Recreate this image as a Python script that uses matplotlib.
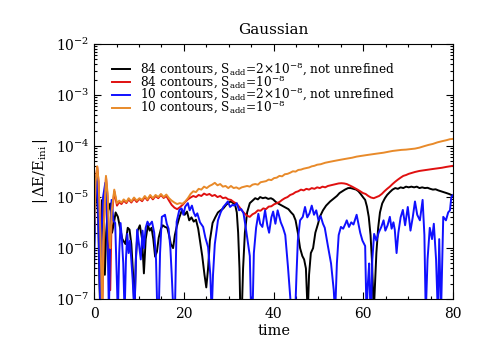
import matplotlib
matplotlib.use("Agg")
import matplotlib.pyplot as plt
from matplotlib.ticker import AutoMinorLocator, LogLocator, NullFormatter

plt.rcParams['font.family'] = ['DejaVu Serif']
plt.rcParams['mathtext.fontset'] = 'dejavuserif'

# 84 contours, S_add=2e-8, not unrefined (black)
t_bk = [0.0, 0.3, 0.6, 0.9, 1.2, 1.4, 1.6, 1.8, 2.1, 2.4, 2.7, 3.0, 3.6, 4.0, 4.4, 4.8,
        5.3, 5.8, 6.3, 7.0, 7.5, 7.9, 8.3, 8.7, 9.0, 9.3, 9.7, 10.2, 10.7, 11.1, 11.5, 12.0,
        12.4, 12.8, 13.2, 13.6, 14.0, 14.4, 14.9, 15.3, 15.8, 16.3, 16.7, 17.1, 17.6, 18.0,
        18.4, 19.0, 19.6, 20.2, 20.7, 21.2, 21.7, 22.2, 22.7, 23.2, 23.6, 24.1, 24.6, 25.0,
        25.4, 25.8, 26.4, 27.0, 27.6, 28.2, 28.8, 29.4, 30.0, 30.5, 31.0, 31.4, 31.8, 32.1,
        32.4, 32.6, 32.9, 33.2, 33.6, 34.1, 34.7, 35.3, 35.9, 36.5, 37.0, 37.6, 38.2, 38.8,
        39.4, 39.9, 40.5, 41.1, 41.6, 42.1, 42.7, 43.3, 43.9, 44.4, 44.9, 45.4, 45.9, 46.4,
        46.8, 47.2, 47.6, 47.9, 48.3, 48.8, 49.3, 49.9, 50.3, 51.0, 51.7, 52.6, 53.5, 54.1,
        54.7, 55.3, 55.9, 56.6, 57.2, 57.8, 58.4, 58.9, 59.4, 59.9, 60.4, 60.8, 61.2, 61.6,
        61.9, 62.1, 62.3, 62.6, 62.9, 63.3, 63.7, 64.2, 64.8, 65.3, 65.9, 66.5, 67.1, 67.7,
        68.3, 68.9, 69.5, 70.1, 70.7, 71.3, 71.9, 72.5, 73.1, 73.7, 74.3, 74.9, 75.5, 76.1,
        76.7, 77.3, 77.9, 78.5, 79.1, 79.6, 80.0]
v_bk = [1e-6, 8e-6, 1.6e-5, 5e-6, 2e-7, 5e-8, 1e-6, 8.8e-6, 3e-6, 3e-7, 2e-6, 5e-6, 7.5e-6, 2e-6, 3e-6, 5e-6,
        4.1e-6, 2.5e-6, 1.5e-6, 1.2e-6, 2.5e-6, 2.3e-6, 1.2e-6, 3e-7, 5e-8, 6e-7, 2.2e-6, 2.8e-6, 1.5e-6, 3.2e-7, 1.5e-6, 2.8e-6,
        2.2e-6, 2.5e-6, 1.5e-6, 6.8e-7, 8.5e-7, 1.6e-6, 2.4e-6, 2.8e-6, 2.6e-6, 2.5e-6, 1.8e-6, 1.2e-6, 1.0e-6, 1.8e-6,
        2.6e-6, 4e-6, 5.6e-6, 4.5e-6, 5.2e-6, 3.5e-6, 4e-6, 3.3e-6, 3.6e-6, 2.4e-6, 1.4e-6, 7e-7, 3e-7, 1.7e-7,
        4e-7, 1.4e-6, 3.1e-6, 4e-6, 5e-6, 5.5e-6, 6e-6, 7e-6, 7.8e-6, 8.2e-6, 7.6e-6, 7.2e-6, 5e-6, 2e-6,
        4e-7, 5e-8, 5e-8, 4e-7, 2e-6, 5e-6, 7.6e-6, 8.5e-6, 9.5e-6, 9e-6, 1.0e-5, 9.5e-6, 9.8e-6, 9.2e-6,
        9.5e-6, 9e-6, 8e-6, 7.4e-6, 7e-6, 6.6e-6, 6.2e-6, 5.8e-6, 5e-6, 4.5e-6, 3.5e-6, 2e-6, 1e-6, 7e-7,
        6e-7, 4e-7, 5e-8, 3e-7, 8e-7, 1e-6, 2e-6, 3e-6, 4.1e-6, 5.5e-6, 6.8e-6, 8.2e-6, 9.5e-6, 1.05e-5,
        1.2e-5, 1.3e-5, 1.4e-5, 1.5e-5, 1.5e-5, 1.45e-5, 1.4e-5, 1.3e-5, 1.15e-5, 1.0e-5, 8.8e-6, 6.5e-6, 4.1e-6, 1.8e-6,
        6e-7, 2e-7, 5e-8, 2e-7, 8e-7, 2.5e-6, 5e-6, 7.5e-6, 9.5e-6, 1.1e-5, 1.25e-5, 1.4e-5, 1.5e-5, 1.45e-5,
        1.55e-5, 1.5e-5, 1.6e-5, 1.55e-5, 1.6e-5, 1.55e-5, 1.6e-5, 1.5e-5, 1.55e-5, 1.5e-5, 1.52e-5, 1.45e-5, 1.4e-5, 1.42e-5,
        1.35e-5, 1.3e-5, 1.25e-5, 1.2e-5, 1.15e-5, 1.1e-5, 1.05e-5]

# 84 contours, S_add=1e-8 (red)
t_rd = [0.0, 0.35, 0.7, 1.0, 1.4, 1.8, 2.2, 2.65, 3.0, 3.3, 3.6, 3.9, 4.5, 5.1, 5.6, 6.1,
        6.6, 7.2, 7.7, 8.3, 8.9, 9.5, 10.1, 10.7, 11.3, 11.9, 12.5, 13.1, 13.7, 14.3, 14.9,
        15.5, 16.1, 16.7, 17.3, 17.9, 18.5, 19.1, 19.7, 20.3, 20.9, 21.5, 22.1, 22.7, 23.3,
        23.9, 24.5, 25.1, 25.7, 26.3, 26.9, 27.5, 28.1, 28.7, 29.3, 29.9, 30.5, 31.1, 31.7,
        32.3, 32.9, 33.5, 34.1, 34.7, 35.3, 35.9, 36.5, 37.1, 37.7, 38.3, 38.9, 39.5, 40.1,
        40.7, 41.3, 41.9, 42.5, 43.1, 43.7, 44.3, 44.9, 45.5, 46.1, 46.7, 47.3, 47.9, 48.5,
        49.1, 49.7, 50.3, 50.9, 51.5, 52.1, 52.7, 53.3, 53.9, 54.5, 55.1, 55.7, 56.3, 56.9,
        57.5, 58.1, 58.7, 59.3, 59.9, 60.5, 61.1, 61.7, 62.3, 62.9, 63.5, 64.1, 64.7, 65.3,
        65.9, 66.5, 67.1, 67.7, 68.3, 68.9, 69.5, 70.1, 70.7, 71.5, 72.5, 73.5, 74.5, 75.5,
        76.5, 77.5, 78.5, 79.3, 80.0]
v_rd = [2e-6, 2e-5, 3.9e-5, 2e-5, 2e-6, 5e-8, 3e-6, 2.5e-5, 1e-5, 1e-6, 1.5e-7, 4e-6, 1.3e-5, 6.8e-6, 8e-6, 7.3e-6,
        8.5e-6, 7.6e-6, 9e-6, 7.8e-6, 9.3e-6, 8e-6, 9.2e-6, 8.3e-6, 1.0e-5, 8.6e-6, 1.05e-5, 9e-6, 1.05e-5, 9.5e-6, 1.1e-5,
        9.6e-6, 1.05e-5, 8.5e-6, 7e-6, 6.2e-6, 5.8e-6, 6.3e-6, 7e-6, 8e-6, 9e-6, 9.8e-6, 1.05e-5, 1.0e-5, 1.1e-5,
        1.05e-5, 1.17e-5, 1.1e-5, 1.15e-5, 1.05e-5, 1.1e-5, 1.0e-5, 1.05e-5, 9.5e-6, 9.8e-6, 9e-6, 8.8e-6, 8e-6, 7.5e-6,
        6.5e-6, 5.5e-6, 4.8e-6, 4.3e-6, 4.1e-6, 4.6e-6, 4.9e-6, 5.5e-6, 5.4e-6, 6e-6, 5.8e-6, 6.5e-6, 6.6e-6, 7.2e-6,
        7.6e-6, 8e-6, 8.8e-6, 9.5e-6, 1.0e-5, 1.1e-5, 1.15e-5, 1.25e-5, 1.3e-5, 1.4e-5, 1.35e-5, 1.45e-5, 1.4e-5, 1.5e-5,
        1.45e-5, 1.55e-5, 1.5e-5, 1.6e-5, 1.55e-5, 1.65e-5, 1.7e-5, 1.75e-5, 1.8e-5, 1.85e-5, 1.87e-5, 1.85e-5, 1.8e-5, 1.7e-5,
        1.6e-5, 1.5e-5, 1.4e-5, 1.3e-5, 1.2e-5, 1.15e-5, 1.05e-5, 9.8e-6, 9.5e-6, 1.0e-5, 1.05e-5, 1.15e-5, 1.3e-5, 1.45e-5,
        1.6e-5, 1.8e-5, 2.0e-5, 2.2e-5, 2.4e-5, 2.6e-5, 2.7e-5, 2.85e-5, 2.95e-5, 3.1e-5, 3.25e-5, 3.35e-5, 3.45e-5, 3.55e-5,
        3.65e-5, 3.75e-5, 3.9e-5, 4.0e-5, 4.1e-5]

# 10 contours, S_add=2e-8, not unrefined (blue)
t_bl = [0.0, 0.2, 0.5, 0.8, 1.1, 1.4, 1.6, 2.0, 2.5, 2.8, 3.1, 3.3, 3.6, 3.9, 4.3, 4.7,
        5.0, 5.3, 5.6, 5.9, 6.2, 6.5, 6.8, 7.1, 7.4, 7.7, 8.0, 8.3, 8.6, 9.0, 9.3, 9.6,
        10.0, 10.4, 10.8, 11.1, 11.5, 11.9, 12.3, 12.9, 13.4, 13.8, 14.1, 14.4, 14.7, 15.1,
        15.5, 15.8, 16.2, 16.6, 17.0, 17.3, 17.7, 18.0, 18.4, 19.0, 19.5, 19.9, 20.3, 20.9,
        21.3, 21.8, 22.2, 22.6, 23.0, 23.6, 24.3, 24.8, 25.4, 25.9, 26.2, 26.5, 26.9, 27.6,
        28.2, 28.8, 29.3, 29.8, 30.3, 30.8, 31.3, 31.8, 32.3, 32.8, 33.3, 33.8, 34.2, 34.7,
        35.0, 35.3, 35.6, 36.1, 36.6, 37.0, 37.5, 38.1, 38.6, 39.0, 39.5, 39.9, 40.4, 40.9,
        41.3, 41.6, 42.1, 42.6, 43.2, 43.6, 44.0, 44.8, 45.1, 45.4, 45.9, 46.5, 47.0, 47.5,
        48.0, 48.5, 49.0, 49.5, 50.0, 50.5, 51.0, 51.4, 52.1, 52.8, 53.4, 53.7, 54.1, 54.5,
        55.0, 55.5, 56.0, 56.3, 56.8, 57.3, 57.8, 58.5, 58.9, 59.3, 59.8, 60.4, 60.7, 61.0,
        61.3, 61.5, 61.7, 62.0, 62.4, 62.9, 63.4, 64.0, 64.5, 64.9, 65.4, 65.9, 66.3, 66.7,
        67.0, 67.4, 67.8, 68.3, 68.8, 69.3, 69.9, 70.5, 71.0, 71.5, 72.0, 72.6, 73.2, 73.6,
        73.9, 74.3, 74.8, 75.3, 75.7, 76.2, 76.6, 76.9, 77.3, 77.8, 78.4, 78.9, 79.3, 79.6,
        80.0]
v_bl = [3e-7, 5e-6, 2.5e-5, 1.5e-5, 1e-6, 5e-8, 1.5e-6, 1e-5, 1.9e-5, 8e-6, 6e-7, 5e-8, 2e-6, 8.8e-6, 3.5e-6, 3.1e-6,
        4e-7, 5e-8, 8e-7, 3.1e-6, 1.5e-6, 5e-7, 5e-8, 6e-7, 1.9e-6, 8e-7, 1.4e-6, 6e-7, 2.4e-7, 5e-8, 5e-7, 2.3e-6,
        1.2e-6, 6e-7, 2.2e-6, 1.0e-6, 2.5e-6, 3.3e-6, 2.8e-6, 3.3e-6, 2e-6, 6e-7, 5e-8, 5e-8, 8e-7, 4.1e-6,
        4.3e-6, 4.5e-6, 3e-6, 2.4e-6, 1e-6, 3e-7, 5e-8, 5e-8, 3.3e-6, 5.6e-6, 6e-6, 4.5e-6, 6.5e-6, 7.6e-6,
        5.5e-6, 6.8e-6, 5e-6, 4.2e-6, 4.8e-6, 3.2e-6, 2.6e-6, 1.6e-6, 1.05e-6, 3e-7, 5e-8, 3e-7, 1.2e-6, 3.5e-6,
        5e-6, 6.4e-6, 7.2e-6, 8.2e-6, 6.4e-6, 7e-6, 6.8e-6, 7.6e-6, 5.5e-6, 5.8e-6, 4.8e-6, 2.5e-6, 1.4e-6, 7e-7,
        5e-8, 5e-8, 8e-7, 2.5e-6, 4.7e-6, 3e-6, 2.6e-6, 5.5e-6, 2.8e-6, 2e-6, 4e-6, 5.2e-6, 3e-6, 5.5e-6,
        4e-6, 3.2e-6, 2.5e-6, 1.8e-6, 4.3e-7, 1.5e-7, 5e-8, 5e-8, 3e-7, 1.4e-6, 3.5e-6, 4.1e-6, 6.4e-6, 4e-6,
        4.8e-6, 6.8e-6, 4.5e-6, 5.5e-6, 3.5e-6, 4.2e-6, 3e-6, 2.5e-6, 1.1e-6, 5e-7, 1.5e-7, 5e-8, 5e-7, 1.8e-6,
        2.6e-6, 2.4e-6, 3e-6, 3.5e-6, 2.6e-6, 3.2e-6, 2.9e-6, 4.5e-6, 3e-6, 2e-6, 1.4e-6, 1.1e-6, 5e-8, 2e-7,
        5e-7, 1e-7, 5e-8, 6e-7, 1.9e-6, 1.4e-6, 2e-6, 2.6e-6, 3.5e-6, 2.2e-6, 2.8e-6, 4.1e-6, 2.4e-6, 3.2e-6,
        2.3e-6, 8e-7, 2e-6, 4e-6, 5.6e-6, 2.8e-6, 6.4e-6, 2.2e-6, 4e-6, 8.2e-6, 4.5e-6, 3.5e-6, 8.8e-6, 1.8e-6,
        5e-8, 6e-7, 2.5e-6, 1.5e-6, 3e-6, 6e-7, 5e-8, 1.5e-6, 5e-8, 4.1e-6, 3.5e-6, 5e-6, 5.5e-6, 1e-5,
        1.1e-5]

# 10 contours, S_add=1e-8 (orange)
t_or = [0.0, 0.35, 0.7, 1.0, 1.4, 1.8, 2.2, 2.65, 3.0, 3.4, 3.6, 3.9, 4.5, 5.1, 5.6, 6.1,
        6.6, 7.2, 7.7, 8.3, 8.9, 9.5, 10.1, 10.7, 11.3, 11.9, 12.5, 13.1, 13.7, 14.3, 14.9,
        15.5, 16.1, 16.7, 17.3, 17.9, 18.5, 19.1, 19.7, 20.3, 20.9, 21.5, 22.1, 22.7, 23.3,
        23.9, 24.5, 25.1, 25.7, 26.3, 26.9, 27.5, 28.1, 28.7, 29.3, 29.9, 30.5, 31.1, 31.7,
        32.3, 32.9, 33.5, 34.1, 34.7, 35.3, 35.9, 36.5, 37.1, 37.7, 38.3, 38.9, 39.5, 40.1,
        40.7, 41.3, 41.9, 42.5, 43.1, 43.7, 44.3, 44.9, 45.5, 46.1, 46.7, 47.3, 47.9, 48.5,
        49.1, 49.7, 50.5, 51.5, 52.5, 53.5, 54.5, 55.5, 56.5, 57.5, 58.5, 59.5, 60.5, 61.5,
        62.5, 63.5, 64.5, 65.5, 66.5, 67.5, 68.5, 69.5, 70.5, 71.5, 72.5, 73.5, 74.5, 75.5,
        76.5, 77.5, 78.5, 79.3, 80.0]
v_or = [2e-6, 2e-5, 4.0e-5, 2e-5, 2e-6, 5e-8, 3e-6, 2.6e-5, 1.2e-5, 1.5e-6, 1e-6, 5e-6, 1.4e-5, 7.5e-6, 8.5e-6, 7.8e-6,
        9e-6, 8e-6, 9.5e-6, 8.2e-6, 9.8e-6, 8.5e-6, 9.5e-6, 8.8e-6, 1.05e-5, 9e-6, 1.1e-5, 9.5e-6, 1.1e-5, 1.0e-5, 1.15e-5,
        1.0e-5, 1.12e-5, 9.5e-6, 8.5e-6, 7.8e-6, 7.3e-6, 7.6e-6, 7.4e-6, 8.2e-6, 9.5e-6, 1.15e-5, 1.3e-5, 1.25e-5, 1.45e-5,
        1.4e-5, 1.6e-5, 1.5e-5, 1.65e-5, 1.75e-5, 1.9e-5, 1.7e-5, 1.8e-5, 1.6e-5, 1.65e-5, 1.5e-5, 1.65e-5, 1.5e-5, 1.55e-5,
        1.45e-5, 1.55e-5, 1.6e-5, 1.65e-5, 1.6e-5, 1.75e-5, 1.8e-5, 1.75e-5, 1.95e-5, 2.0e-5, 2.05e-5, 2.2e-5, 2.15e-5, 2.35e-5,
        2.4e-5, 2.6e-5, 2.55e-5, 2.8e-5, 2.85e-5, 3.0e-5, 3.2e-5, 3.15e-5, 3.4e-5, 3.45e-5, 3.6e-5, 3.7e-5, 3.8e-5, 4.0e-5,
        4.1e-5, 4.3e-5, 4.4e-5, 4.7e-5, 4.9e-5, 5.1e-5, 5.3e-5, 5.5e-5, 5.7e-5, 5.9e-5, 6.2e-5, 6.4e-5, 6.6e-5, 6.8e-5,
        7.0e-5, 7.2e-5, 7.4e-5, 7.7e-5, 8.0e-5, 8.2e-5, 8.4e-5, 8.5e-5, 8.7e-5, 8.9e-5, 9.3e-5, 9.9e-5, 1.05e-4, 1.1e-4,
        1.18e-4, 1.24e-4, 1.3e-4, 1.36e-4, 1.38e-4]

labels = [r'84 contours, S$_{\rm add}$=2$\times$10$^{-8}$, not unrefined',
          r'84 contours, S$_{\rm add}$=10$^{-8}$',
          r'10 contours, S$_{\rm add}$=2$\times$10$^{-8}$, not unrefined',
          r'10 contours, S$_{\rm add}$=10$^{-8}$']
colors = ['black', '#e01010', '#1010ff', '#e88a2a']

fig = plt.figure(figsize=(4.8, 3.6), dpi=100)
ax = fig.add_axes([0.196, 0.169, 0.748, 0.709])

series = [(t_bk, v_bk), (t_rd, v_rd), (t_bl, v_bl), (t_or, v_or)]
for (t, v), c, lab in zip(series, colors, labels):
    ax.plot(t, v, color=c, lw=1.4, label=lab)

ax.set_yscale('log')
ax.set_xlim(0, 80)
ax.set_ylim(1e-7, 1e-2)
ax.set_xticks([0, 20, 40, 60, 80])
ax.xaxis.set_minor_locator(AutoMinorLocator(4))
ax.yaxis.set_minor_locator(LogLocator(base=10, subs=range(2, 10), numticks=20))
ax.yaxis.set_minor_formatter(NullFormatter())
ax.tick_params(which='both', direction='in', top=True, right=True, labelsize=10, width=0.8)
ax.tick_params(which='major', length=5)
ax.tick_params(axis='x', which='major', pad=6)
ax.tick_params(which='minor', length=2.5)
for s in ax.spines.values():
    s.set_linewidth(0.8)

ax.set_title('Gaussian', fontsize=11, pad=7)
ax.set_xlabel('time', fontsize=10.5, labelpad=2)
ax.set_ylabel(r'$|\,\Delta\mathrm{E}/\mathrm{E}_{\mathrm{ini}}\,|$', fontsize=10.5)

ax.legend(loc='upper left', bbox_to_anchor=(0.05, 0.935), frameon=False, fontsize=8.7,
          handlelength=1.45, handletextpad=0.9, labelspacing=-0.38, borderpad=0, borderaxespad=0)

fig.savefig('out.png', dpi=100)
